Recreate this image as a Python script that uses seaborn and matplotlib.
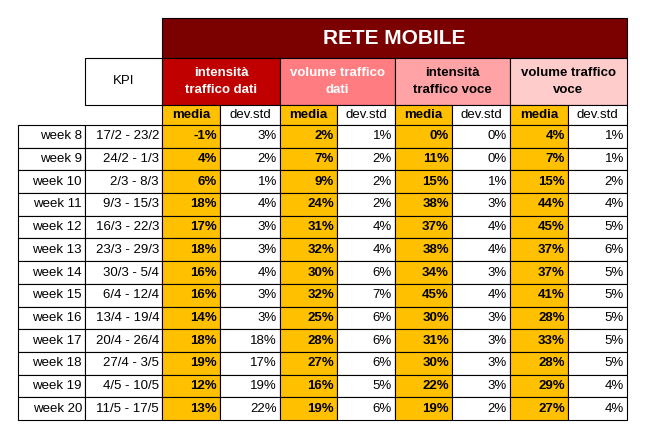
import matplotlib
matplotlib.use("Agg")
import matplotlib.pyplot as plt
import matplotlib.patches as mpatches
import seaborn as sns

sns.set_theme(style="white", font="Liberation Sans")

weeks = ["week 8", "week 9", "week 10", "week 11", "week 12", "week 13", "week 14",
         "week 15", "week 16", "week 17", "week 18", "week 19", "week 20"]
periods = ["17/2 - 23/2", "24/2 - 1/3", "2/3 - 8/3", "9/3 - 15/3", "16/3 - 22/3",
           "23/3 - 29/3", "30/3 - 5/4", "6/4 - 12/4", "13/4 - 19/4", "20/4 - 26/4",
           "27/4 - 3/5", "4/5 - 10/5", "11/5 - 17/5"]
groups = ["intensità\ntraffico dati", "volume traffico\ndati",
          "intensità\ntraffico voce", "volume traffico\nvoce"]
group_colors = ["#C00000", "#FF7C80", "#FFA3A6", "#FFCCCC"]
group_text = ["white", "white", "black", "black"]

dati_int_media = [-1, 4, 6, 18, 17, 18, 16, 16, 14, 18, 19, 12, 13]
dati_int_std = [3, 2, 1, 4, 3, 3, 4, 3, 3, 18, 17, 19, 22]
dati_vol_media = [2, 7, 9, 24, 31, 32, 30, 32, 25, 28, 27, 16, 19]
dati_vol_std = [1, 2, 2, 2, 4, 4, 6, 7, 6, 6, 6, 5, 6]
voce_int_media = [0, 11, 15, 38, 37, 38, 34, 45, 30, 31, 30, 22, 19]
voce_int_std = [0, 0, 1, 3, 4, 4, 3, 4, 3, 3, 3, 3, 2]
voce_vol_media = [4, 7, 15, 44, 45, 37, 37, 41, 28, 33, 28, 29, 27]
voce_vol_std = [1, 1, 2, 4, 5, 6, 5, 5, 5, 5, 5, 4, 4]

series = [(dati_int_media, dati_int_std), (dati_vol_media, dati_vol_std),
          (voce_int_media, voce_int_std), (voce_vol_media, voce_vol_std)]

fig = plt.figure(figsize=(6.47, 4.38), dpi=100)
ax = fig.add_axes([0, 0, 1, 1])
ax.set_xlim(0, 647)
ax.set_ylim(438, 0)
ax.axis("off")

col_x = [18, 85, 162, 220, 280, 337, 395, 452, 510, 568, 627]
y_top, y_sub, y_media, y_data = 18, 58, 105, 125
row_h = (420 - y_data) / len(weeks)
lw = 0.8

def cell(x0, x1, y0, y1, fc="white", text="", ha="center", color="black", weight="normal", size=9.5):
    ax.add_patch(mpatches.Rectangle((x0, y0), x1 - x0, y1 - y0, facecolor=fc,
                                    edgecolor="black", linewidth=lw))
    if text:
        tx = {"center": (x0 + x1) / 2, "right": x1 - 3, "left": x0 + 3}[ha]
        ax.text(tx, (y0 + y1) / 2, text, ha=ha, va="center", color=color,
                fontweight=weight, fontsize=size, linespacing=1.5)

# header
cell(col_x[2], col_x[10], y_top, y_sub, fc="#7B0000", text="RETE MOBILE",
     color="white", weight="bold", size=15)
cell(col_x[1], col_x[2], y_sub, y_media, text="KPI")
for g in range(4):
    x0, x1 = col_x[2 + 2 * g], col_x[4 + 2 * g]
    cell(x0, x1, y_sub, y_media, fc=group_colors[g], text=groups[g],
         color=group_text[g], weight="bold", size=9.5)
    cell(x0, col_x[3 + 2 * g], y_media, y_data, fc="#FFC000", text="media", weight="bold")
    cell(col_x[3 + 2 * g], x1, y_media, y_data, text="dev.std")

for i, (w, p) in enumerate(zip(weeks, periods)):
    y0 = y_data + i * row_h
    y1 = y0 + row_h
    cell(col_x[0], col_x[1], y0, y1, text=w, ha="right")
    cell(col_x[1], col_x[2], y0, y1, text=p, ha="right")
    for g, (m, s) in enumerate(series):
        cell(col_x[2 + 2 * g], col_x[3 + 2 * g], y0, y1, fc="#FFC000",
             text=f"{m[i]}%", ha="right", weight="bold")
        cell(col_x[3 + 2 * g], col_x[4 + 2 * g], y0, y1, text=f"{s[i]}%", ha="right")

fig.savefig("out.png", dpi=100)
